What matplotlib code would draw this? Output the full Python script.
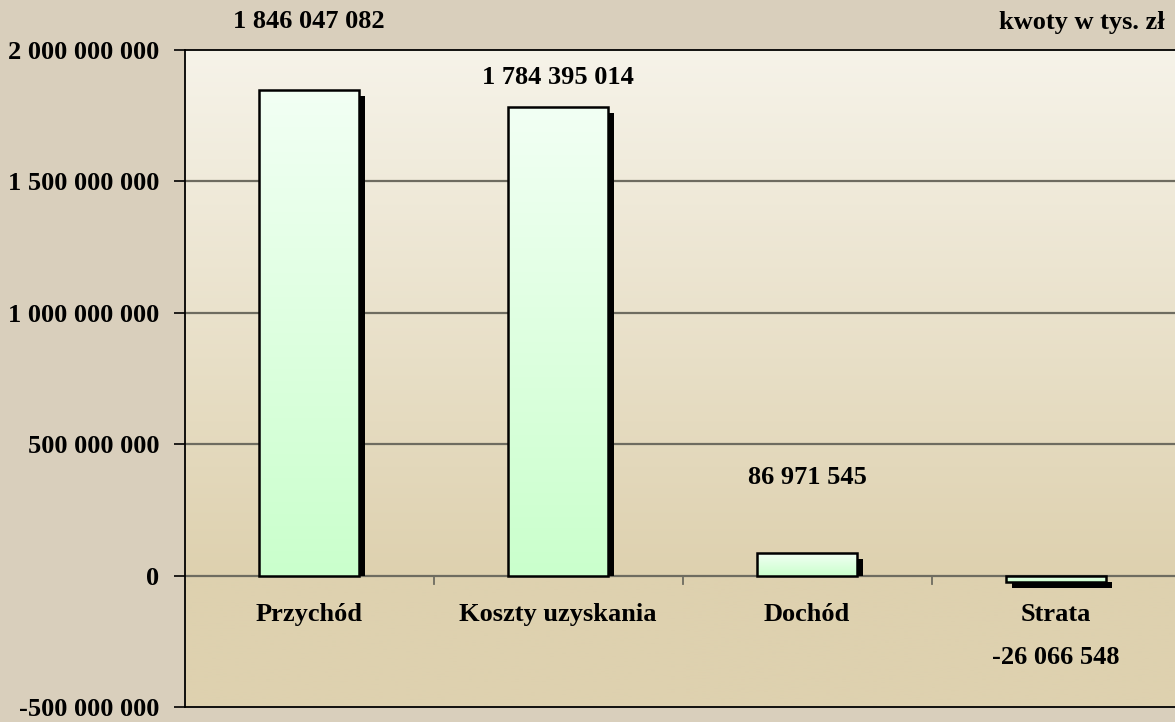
import numpy as np
import matplotlib
matplotlib.use("Agg")
import matplotlib.pyplot as plt
from matplotlib.patches import Rectangle
from matplotlib.ticker import FuncFormatter, FixedLocator

# ---- data ----
categories = ["Przychód", "Koszty uzyskania", "Dochód", "Strata"]
values = [1846047082, 1784395014, 86971545, -26066548]
value_labels = ["1 846 047 082", "1 784 395 014", "86 971 545", "-26 066 548"]
label_y = [2.108e9, 1.895e9, 3.73e8, -3.12e8]   # label placement (data units)
y_ticks = [-500000000, 0, 500000000, 1000000000, 1500000000, 2000000000]
unit_note = "kwoty w tys. zł"

plt.rcParams['font.family'] = ['Liberation Serif', 'DejaVu Serif']
plt.rcParams['font.weight'] = 'bold'
FS = 19

W, H = 1175, 722
fig = plt.figure(figsize=(W / 100, H / 100), dpi=100)
fig.patch.set_facecolor('#D9CFBC')

ax = fig.add_axes([184.5 / W, 15 / H, 996 / W, 657 / H])
ax.set_xlim(-0.5, 3.5)
ax.set_ylim(-5e8, 2e9)

# plot-area gradient background (light cream at top -> tan at zero line, constant below)
n = 400
t = np.linspace(0, 1, n)  # 0 bottom -> 1 top (axes fraction)
zero_frac = 0.2
frac = np.clip((1 - t) / (1 - zero_frac), 0, 1)
top_c = np.array([246, 243, 233]) / 255
bot_c = np.array([222, 209, 175]) / 255
cols = top_c[None, :] * (1 - frac[:, None]) + bot_c[None, :] * frac[:, None]
img = cols[:, None, :]
ax.imshow(img, extent=[0, 1, 0, 1], transform=ax.transAxes, origin='lower',
          aspect='auto', zorder=0, interpolation='bilinear')

# gridlines
for yv in y_ticks[2:-1]:
    ax.axhline(yv, color='#6E6C60', lw=1.6, zorder=1)
ax.axhline(0, color='#6E6C60', lw=1.6, zorder=1)

# bars with shadow and gradient
bw = 0.405
px_x = (ax.get_xlim()[1] - ax.get_xlim()[0]) / 996.0
px_y = (ax.get_ylim()[1] - ax.get_ylim()[0]) / 657.0
dx, dy = 6 * px_x, 6 * px_y
gt = np.array([242, 255, 244]) / 255
gb = np.array([202, 255, 204]) / 255
grad = np.linspace(0, 1, 200)
gimg = (gb[None, :] * (1 - grad[:, None]) + gt[None, :] * grad[:, None])[:, None, :]

for i, v in enumerate(values):
    x0 = i - bw / 2
    # shadow
    if v >= 0:
        sh = Rectangle((x0 + dx, 0), bw, v - dy, facecolor='black', edgecolor='none', zorder=2)
    else:
        sh = Rectangle((x0 + dx, -dy), bw, v, facecolor='black', edgecolor='none', zorder=2)
    ax.add_patch(sh)
    bar = Rectangle((x0, 0), bw, v, facecolor='none', edgecolor='black', lw=1.8, zorder=4)
    ax.add_patch(bar)
    lo, hi = min(0, v), max(0, v)
    im = ax.imshow(gimg, extent=[x0, x0 + bw, lo, hi], origin='lower', aspect='auto',
                   zorder=3, interpolation='bilinear')
    clip = Rectangle((x0, 0), bw, v, transform=ax.transData)
    im.set_clip_path(clip)
    ax.text(i, label_y[i], value_labels[i], ha='center', va='center', fontsize=FS,
            fontweight='bold', zorder=6, clip_on=False)

ax.set_xlim(-0.5, 3.5)
ax.set_ylim(-5e8, 2e9)

# spines
ax.spines['right'].set_visible(False)
for s in ['left', 'top', 'bottom']:
    ax.spines[s].set_color('black')
    ax.spines[s].set_linewidth(1.3)

# y ticks
ax.yaxis.set_major_locator(FixedLocator(y_ticks))
ax.yaxis.set_major_formatter(FuncFormatter(lambda v, p: f"{int(v):,}".replace(",", " ")))
ax.tick_params(axis='y', direction='out', length=8, width=1.2, color='black', pad=10,
               labelsize=FS)
for lab in ax.get_yticklabels():
    lab.set_fontweight('bold')

# x ticks: category labels below zero line, separator ticks on zero line
ax.set_xticks([])
for xb in [0.5, 1.5, 2.5]:
    ax.plot([xb, xb], [0, -8 * px_y], color='#6E6C60', lw=1.3, zorder=1)
for i, c in enumerate(categories):
    ax.text(i, -39 * px_y, c, ha='center', va='center', fontsize=FS, fontweight='bold', zorder=6)

fig.text(1165 / W, 1 - 22 / H, unit_note, ha='right', va='center', fontsize=FS, fontweight='bold')

fig.savefig('out.png', dpi=100, facecolor=fig.get_facecolor())
